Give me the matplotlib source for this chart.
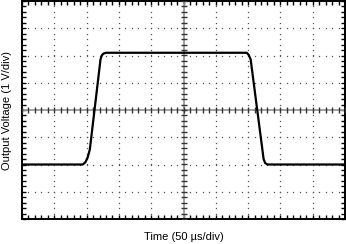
import numpy as np
import matplotlib
matplotlib.use("Agg")
import matplotlib.pyplot as plt
from matplotlib.ticker import MultipleLocator

# Signal (time in µs, voltage in V); 50 µs/div, 1 V/div
time_us = [0, 94, 98, 101.5, 105, 121.5, 123.5, 126, 130,
           348, 351, 354, 374, 376.5, 380, 385, 500]
volt_v = [-2.0, -2.0, -1.92, -1.75, -1.45, 1.85, 2.0, 2.07, 2.1,
          2.1, 2.02, 1.85, -1.8, -1.95, -2.0, -2.0, -2.0]

x_label = "Time (50 µs/div)"
y_label = "Output Voltage (1 V/div)"

x_div, y_div = 50, 1.0
n_xdiv, n_ydiv = 10, 8

plt.rcParams['font.family'] = ['Liberation Sans', 'DejaVu Sans']

fig = plt.figure(figsize=(3.46, 2.44), dpi=100)
ax = fig.add_axes([22/346, 25/244, 323/346, 218/244])
xmin, xmax = 0, n_xdiv * x_div
ymin, ymax = -n_ydiv/2 * y_div, n_ydiv/2 * y_div
ax.set_xlim(xmin, xmax)
ax.set_ylim(ymin, ymax)

grid_col = '#555555'
# dotted grid (dots at minor positions)
xs_minor = np.arange(xmin, xmax + 1e-9, x_div/5)
ys_minor = np.arange(ymin, ymax + 1e-9, y_div/5)
xc, yc = (xmin + xmax)/2, (ymin + ymax)/2
for i in range(1, n_xdiv):
    x = xmin + i*x_div
    if abs(x - xc) < 1e-9:
        continue
    ax.plot(np.full_like(ys_minor, x), ys_minor, ls='none', marker='s',
            ms=0.9, mew=0, color=grid_col, zorder=1)
for j in range(1, n_ydiv):
    y = ymin + j*y_div
    if abs(y - yc) < 1e-9:
        continue
    ax.plot(xs_minor, np.full_like(xs_minor, y), ls='none', marker='s',
            ms=0.9, mew=0, color=grid_col, zorder=1)

# center axes lines with tick marks
ax.axhline(yc, color='#999999', lw=1.3, zorder=2)
ax.axvline(xc, color='#999999', lw=1.3, zorder=2)
ax.plot(xs_minor, np.full_like(xs_minor, yc), ls='none', marker='|',
        ms=5, mew=1.0, color='#333333', zorder=3)
ax.plot(np.full_like(ys_minor, xc), ys_minor, ls='none', marker='_',
        ms=5, mew=1.0, color='#333333', zorder=3)

# signal
ax.plot(time_us, volt_v, color='black', lw=1.6, zorder=5,
        solid_joinstyle='round')

# border ticks
ax.xaxis.set_major_locator(MultipleLocator(x_div))
ax.xaxis.set_minor_locator(MultipleLocator(x_div/5))
ax.yaxis.set_major_locator(MultipleLocator(y_div))
ax.yaxis.set_minor_locator(MultipleLocator(y_div/5))
ax.tick_params(which='both', direction='in', top=True, right=True,
               labelbottom=False, labelleft=False, length=3, width=1.0,
               color='black')
for s in ax.spines.values():
    s.set_linewidth(1.4)

fig.text(183.5/346, 1 - 237/244, x_label, ha='center', va='center', fontsize=8)
fig.text(7/346, 1 - 110/244, y_label, ha='center', va='center',
         rotation=90, fontsize=8)

fig.savefig('out.png', dpi=100)
